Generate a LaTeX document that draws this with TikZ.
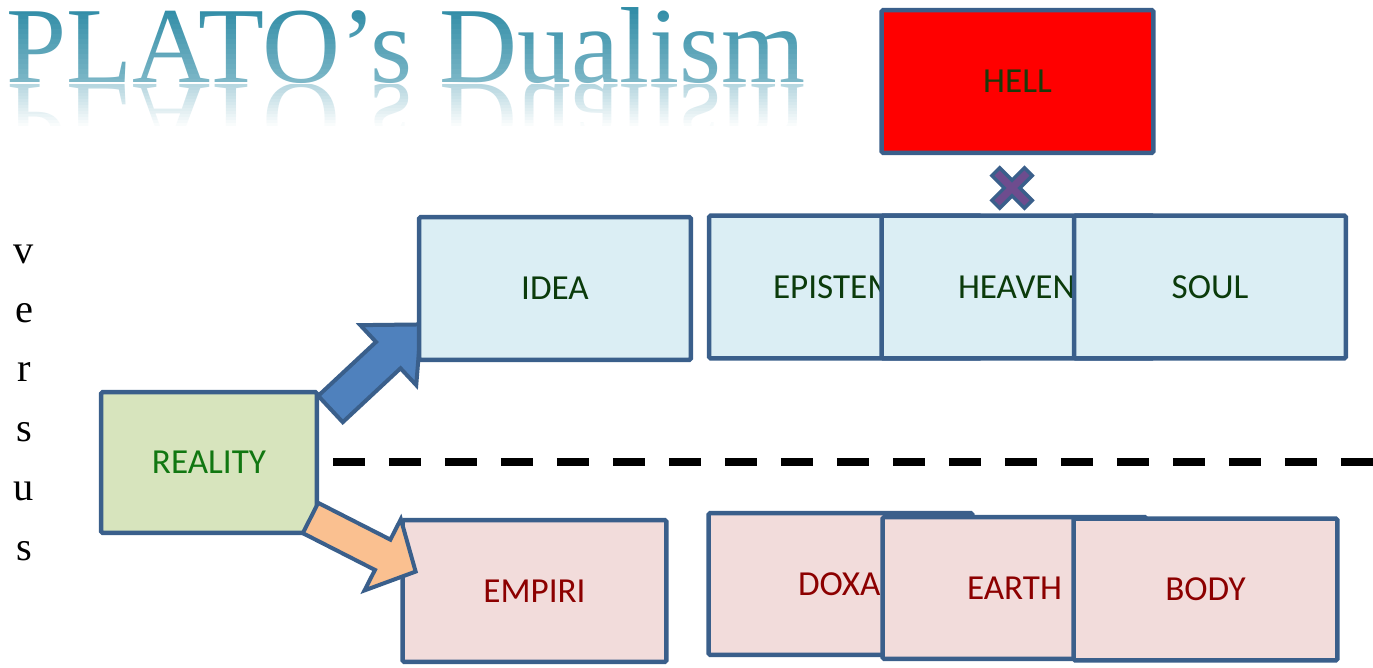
\documentclass[tikz,border=0pt]{standalone}
\usepackage{fontspec}
\usepackage{xcolor}
\usepackage{tikz}
\usetikzlibrary{positioning,calc}
\newfontfamily\boxfont{Carlito}
\newfontfamily\titlefont{Liberation Serif}
\definecolor{bordc}{HTML}{3A5F8B}
\definecolor{hifill}{HTML}{DBEEF4}
\definecolor{hitext}{HTML}{0B3B0B}
\definecolor{lofill}{HTML}{F2DCDB}
\definecolor{lotext}{HTML}{8C0000}
\definecolor{realfill}{HTML}{D7E4BD}
\definecolor{realtext}{HTML}{117711}
\definecolor{hellfill}{HTML}{FF0000}
\definecolor{helltext}{HTML}{1A3A0A}
\definecolor{upfill}{HTML}{4F81BD}
\definecolor{downfill}{HTML}{FAC090}
\definecolor{xfill}{HTML}{6E4C8E}
\definecolor{titlec}{HTML}{2F8CA6}

\begin{document}
\begin{tikzpicture}[x=0.02cm,y=-0.02cm,
  box/.style={draw=bordc,line width=0.09cm,rounded corners=1pt,inner sep=0pt,
              font=\boxfont\fontsize{20}{23}\selectfont},
  hibox/.style={box,fill=hifill,text=hitext,minimum width=5.44cm,minimum height=2.86cm},
  lobox/.style={box,fill=lofill,text=lotext,minimum width=5.28cm,minimum height=2.84cm},
  blk/.style={draw=bordc,line width=0.08cm,line join=miter},
  ttl/.style={font=\titlefont\fontsize{61.5}{62}\selectfont,text=titlec,
              anchor=base west,inner sep=0pt},
  vs/.style={font=\titlefont\fontsize{23}{23}\selectfont,inner sep=0pt,anchor=base},
  sepline/.style={line width=0.16cm,dash pattern=on 0.64cm off 0.48cm}
]
\useasboundingbox (0,0) rectangle (1373,667);

% title with its reflection
\node[ttl] (title) at (6,82) {PLATO’s Dualism};
\foreach \k [evaluate=\k as \op using 0.025*\k] in {0,...,15}
  \fill[white,opacity=\op] (0,4+5*\k) rectangle (815,9+5*\k);
\begin{scope}
  \clip (0,84) rectangle (815,128);
  \begin{scope}[shift={(6,84)},yscale=-1]
    \node[ttl,transform shape,text opacity=0.35] (titleR) at (0,0) {PLATO’s Dualism};
  \end{scope}
  \foreach \k [evaluate=\k as \op using \k/14] in {0,...,14}
    \fill[white,opacity=\op] (0,84+3*\k) rectangle (815,87+3*\k);
\end{scope}

% versus
\foreach \ch [count=\i from 0] in {v,e,r,s,u,s}
  \node[vs] (vs\i) at (24,263+59.4*\i) {\ch};

\node[box,fill=realfill,text=realtext,minimum width=4.32cm,minimum height=2.82cm]
  (real) at (209,462.5) {REALITY};

% up arrow
\coordinate (upfoot) at (330.5,409);
\begin{scope}[shift={(upfoot)},rotate=43]
  \draw[blk,fill=upfill] (0,-18) -- (79,-18) -- (79,-41) -- (124,0)
    -- (79,41) -- (79,18) -- (0,18) -- cycle;
\end{scope}

\node[hibox] (idea) at (555,288.5) {IDEA};
\node[lobox] (empiri) at (534.5,591) {EMPIRI};

% down arrow
\coordinate (downfoot) at (310.5,518);
\begin{scope}[shift={(downfoot)},rotate=-27]
  \draw[blk,fill=downfill] (0,-17) -- (81,-17) -- (81,-40) -- (118,0)
    -- (81,40) -- (81,17) -- (0,17) -- cycle;
\end{scope}

% upper row
\node[hibox,text width=2.88cm,inner xsep=1.28cm,align=left] (epist) at (845,287) {EPISTEM};
\node[hibox,text width=2.38cm,inner xsep=1.52cm,align=left] (heaven) at (1017.5,287) {HEAVEN};
\node[hibox] (soul) at (1210,287) {SOUL};
\node[hibox,fill=hellfill,text=helltext] (hell) at (1017.5,81.5) {HELL};

\coordinate (xmark) at (1012,188);
\begin{scope}[shift={(xmark)},rotate=45]
  \draw[draw=bordc,line width=0.07cm,fill=xfill] (-5.5,-23) -- (5.5,-23) -- (5.5,-5.5)
    -- (23,-5.5) -- (23,5.5) -- (5.5,5.5) -- (5.5,23) -- (-5.5,23) -- (-5.5,5.5)
    -- (-23,5.5) -- (-23,-5.5) -- (-5.5,-5.5) -- cycle;
\end{scope}

% lower row
\node[lobox,text width=1.70cm,inner xsep=1.79cm,align=left] (doxa) at (840.5,584) {DOXA};
\node[lobox] (earth) at (1014.5,588) {EARTH};
\node[lobox] (body) at (1205.5,589.5) {BODY};

\coordinate (sepL) at (333,462);
\coordinate (sepR) at (1373,462);
\draw[sepline] (sepL) -- (sepR);
\end{tikzpicture}
\end{document}
